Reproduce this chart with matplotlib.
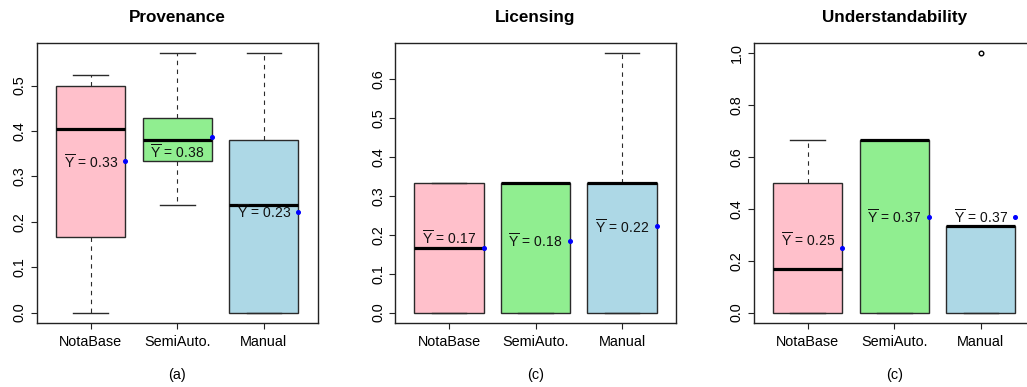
import matplotlib
matplotlib.use("Agg")
import matplotlib.pyplot as plt
import numpy as np

plt.rcParams['font.family'] = ['Liberation Sans', 'DejaVu Sans']
plt.rcParams['mathtext.fontset'] = 'custom'
plt.rcParams['mathtext.rm'] = 'Liberation Sans'
plt.rcParams['mathtext.it'] = 'Liberation Sans:italic'

# ---- data ----
categories = ["NotaBase", "SemiAuto.", "Manual"]
titles = ["Provenance", "Licensing", "Understandability"]
sublabels = ["(a)", "(c)", "(c)"]

# Provenance
prov_whislo = [0.0, 0.238, 0.0]
prov_q1 = [0.167, 0.333, 0.0]
prov_med = [0.405, 0.381, 0.238]
prov_q3 = [0.5, 0.429, 0.381]
prov_whishi = [0.524, 0.571, 0.571]
prov_mean = [0.333, 0.387, 0.222]
prov_fliers = [[], [], []]
prov_label_text = ["0.33", "0.38", "0.23"]
prov_label_y = [0.331, 0.353, 0.221]

# Licensing
lic_whislo = [0.0, 0.0, 0.0]
lic_q1 = [0.0, 0.0, 0.0]
lic_med = [0.167, 0.333, 0.333]
lic_q3 = [0.333, 0.333, 0.333]
lic_whishi = [0.333, 0.333, 0.667]
lic_mean = [0.167, 0.185, 0.222]
lic_fliers = [[], [], []]
lic_label_text = ["0.17", "0.18", "0.22"]
lic_label_y = [0.192, 0.183, 0.22]

# Understandability
und_whislo = [0.0, 0.0, 0.0]
und_q1 = [0.0, 0.0, 0.0]
und_med = [0.167, 0.667, 0.333]
und_q3 = [0.5, 0.667, 0.333]
und_whishi = [0.667, 0.667, 0.333]
und_mean = [0.25, 0.37, 0.37]
und_fliers = [[], [], [1.0]]
und_label_text = ["0.25", "0.37", "0.37"]
und_label_y = [0.277, 0.367, 0.367]

yticks_list = [np.arange(0, 0.51, 0.1), np.arange(0, 0.61, 0.1), np.arange(0, 1.01, 0.2)]

box_colors = ["#FFC0CB", "#90EE90", "#ADD8E6"]

panels = [
    (prov_whislo, prov_q1, prov_med, prov_q3, prov_whishi, prov_mean, prov_fliers, prov_label_text, prov_label_y),
    (lic_whislo, lic_q1, lic_med, lic_q3, lic_whishi, lic_mean, lic_fliers, lic_label_text, lic_label_y),
    (und_whislo, und_q1, und_med, und_q3, und_whishi, und_mean, und_fliers, und_label_text, und_label_y),
]

W, H = 1027, 387
fig = plt.figure(figsize=(W / 100, H / 100), dpi=100)
lefts = [37, 395.3, 754]
ax_w, ax_h = 280.5, 280
ax_bottom = 64

for k, (wl, q1, md, q3, wh, mn, fl, lt, ly) in enumerate(panels):
    ax = fig.add_axes([lefts[k] / W, ax_bottom / H, ax_w / W, ax_h / H])
    stats = []
    for i in range(3):
        stats.append(dict(whislo=wl[i], q1=q1[i], med=md[i], q3=q3[i],
                          whishi=wh[i], fliers=fl[i], mean=mn[i]))
    pos = np.arange(1, 4)
    bp = ax.bxp(stats, positions=pos, widths=0.8, capwidths=0.4,
                patch_artist=True, showmeans=False, showfliers=True,
                boxprops=dict(edgecolor="#2a2a2a", linewidth=1.0),
                medianprops=dict(color="black", linewidth=2.3, solid_capstyle="butt"),
                whiskerprops=dict(color="#2a2a2a", linewidth=0.8, linestyle=(0, (4, 4))),
                capprops=dict(color="#2a2a2a", linewidth=1.0),
                flierprops=dict(marker="o", markersize=3.3, markerfacecolor="none",
                                markeredgecolor="black", markeredgewidth=1.0))
    for patch, c in zip(bp["boxes"], box_colors):
        patch.set_facecolor(c)
    # mean dots
    ax.plot(pos + 0.4, mn, linestyle="none", marker="o", markersize=2.6,
            color="blue", zorder=5, clip_on=False)
    for i in range(3):
        ax.text(pos[i], ly[i], r"$\overline{\mathrm{Y}}\,=\,%s$" % lt[i],
                ha="center", va="center", fontsize=10, color="#111111", zorder=6)
    top = max(max(wh), max([max(f) if f else 0 for f in fl]))
    rng = top - 0.0
    ax.set_ylim(-0.04 * rng, top + 0.04 * rng)
    ax.set_xlim(0.38, 3.62)
    ax.set_xticks(pos)
    ax.set_xticklabels(categories, fontsize=10.4)
    yt = yticks_list[k]
    ax.set_yticks(yt)
    ax.set_yticklabels(["%.1f" % v for v in yt], rotation=90, va="center", fontsize=10.4)
    ax.tick_params(axis="both", length=4.3, width=0.8, color="#222222")
    ax.tick_params(axis="y", pad=3)
    ax.tick_params(axis="x", pad=4)
    for s in ax.spines.values():
        s.set_linewidth(1.0)
        s.set_color("#222222")
    ax.set_title(titles[k], fontsize=12.3, fontweight="bold", pad=15)
    ax.set_xlabel(sublabels[k], fontsize=10.4, labelpad=14)

fig.savefig("out.png", dpi=100)
